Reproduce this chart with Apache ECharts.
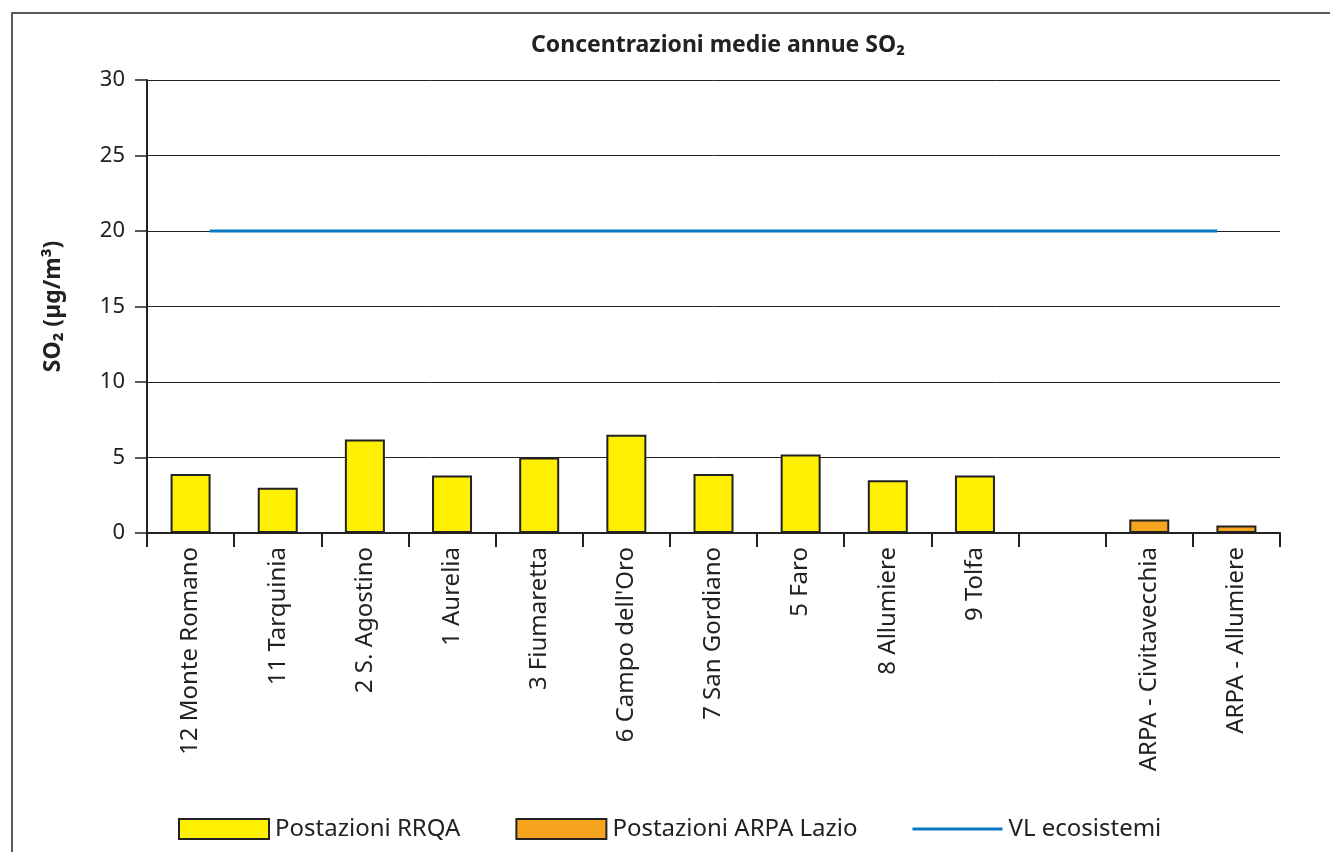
<!DOCTYPE html>
<html>
<head>
<meta charset="utf-8">
<script src="https://cdn.jsdelivr.net/npm/echarts@6/dist/echarts.min.js"></script>
<style>
html,body{margin:0;padding:0;background:#fff;}
#frame{position:absolute;left:11px;top:12px;width:1330px;height:852px;border-left:2px solid #5a5a5a;border-top:2px solid #5a5a5a;box-sizing:border-box;}
#chart{position:absolute;left:0;top:0;width:1330px;height:852px;}
</style>
</head>
<body>
<div id="frame"></div>
<div id="chart"></div>
<script>
const categories = ['12 Monte Romano','11 Tarquinia','2 S. Agostino','1 Aurelia','3 Fiumaretta',"6 Campo dell'Oro",'7 San Gordiano','5 Faro','8 Allumiere','9 Tolfa','','ARPA - Civitavecchia','ARPA - Allumiere'];
const rrqaValues = [3.9, 3.0, 6.2, 3.8, 5.0, 6.5, 3.9, 5.2, 3.5, 3.8, '-', '-', '-'];
const arpaValues = ['-', '-', '-', '-', '-', '-', '-', '-', '-', '-', '-', 0.9, 0.5];
const vlX = [0.72, 12.28];
const vlValue = [20, 20];
const yTicks = {min: 0, max: 30, interval: 5};

const FONT = 'Noto Sans';
const chart = echarts.init(document.getElementById('chart'), null, {renderer: 'canvas'});
chart.setOption({
  backgroundColor: 'transparent',
  animation: false,
  textStyle: {fontFamily: FONT},
  title: {
    text: 'Concentrazioni medie annue SO₂',
    left: 713, top: 29, textAlign: 'center',
    textStyle: {fontFamily: FONT, fontSize: 23, fontWeight: 'bold', color: '#222'}
  },
  grid: {left: 147, right: 50, top: 80, bottom: 319, containLabel: false},
  legend: {
    left: 173, top: 812,
    itemWidth: 90, itemHeight: 20, itemGap: 55,
    textStyle: {fontFamily: FONT, fontSize: 24, color: '#222', padding: [0, 0, 0, 1]},
    data: [
      {name: 'Postazioni RRQA', icon: 'rect'},
      {name: 'Postazioni ARPA Lazio', icon: 'rect'},
      {name: 'VL ecosistemi', icon: 'path://M0,0 L86,0 L86,3 L0,3 Z'}
    ]
  },
  xAxis: [{
    type: 'category',
    data: categories,
    boundaryGap: true,
    axisLine: {lineStyle: {color: '#222', width: 2}},
    axisTick: {show: true, length: 14, lineStyle: {color: '#222', width: 2}},
    axisLabel: {rotate: 90, margin: 14, fontFamily: FONT, fontSize: 24, color: '#222', interval: 0},
    splitLine: {show: false}
  }, {
    type: 'value', min: 0, max: categories.length, show: false, position: 'bottom'
  }],
  yAxis: {
    type: 'value', min: yTicks.min, max: yTicks.max, interval: yTicks.interval,
    name: 'SO₂ (µg/m³)', nameLocation: 'middle', nameGap: 82, nameRotate: 90,
    nameTextStyle: {fontFamily: FONT, fontSize: 23, fontWeight: 'bold', color: '#222'},
    axisLine: {show: true, lineStyle: {color: '#222', width: 2}},
    axisTick: {show: true, length: 12, lineStyle: {color: '#222', width: 1.5}},
    axisLabel: {margin: 22, fontFamily: FONT, fontSize: 22, color: '#222'},
    splitLine: {show: true, lineStyle: {color: '#222', width: 1}}
  },
  series: [{
    name: 'Postazioni RRQA', type: 'bar', data: rrqaValues,
    barWidth: 40, barGap: '-100%',
    itemStyle: {color: '#FFEF00', borderColor: '#222', borderWidth: 2}
  }, {
    name: 'Postazioni ARPA Lazio', type: 'bar', data: arpaValues,
    barWidth: 40,
    itemStyle: {color: '#F6A31E', borderColor: '#222', borderWidth: 2}
  }, {
    name: 'VL ecosistemi', type: 'line', xAxisIndex: 1,
    data: vlX.map((x, i) => [x, vlValue[i]]),
    symbol: 'none', lineStyle: {color: '#0A78C3', width: 3},
    itemStyle: {color: '#0A78C3'}
  }]
});
</script>
</body>
</html>
